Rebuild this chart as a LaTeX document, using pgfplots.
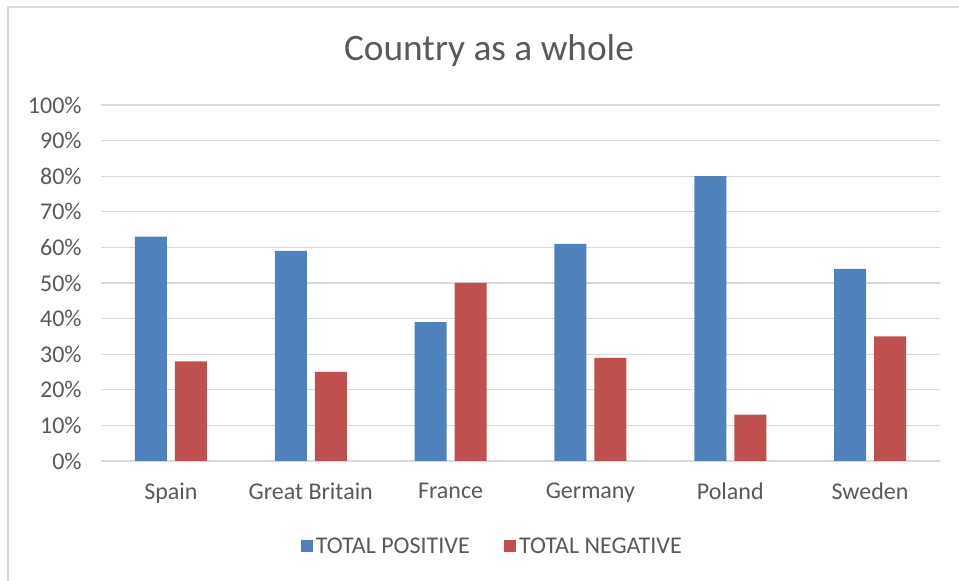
\documentclass[border=0pt]{standalone}
\usepackage{pgfplots}
\pgfplotsset{compat=1.18}
\usepackage{fontspec}
\setmainfont{Carlito}
\definecolor{bblue}{HTML}{4F81BD}
\definecolor{bred}{HTML}{C0504D}
\definecolor{tgray}{HTML}{595959}
\definecolor{ggray}{HTML}{D9D9D9}
\begin{document}
\begin{tikzpicture}
\path[use as bounding box] (0,0) rectangle (719.25pt,435.75pt);
\draw[ggray, line width=1.5pt] (6pt,-2pt) -- (6pt,430.5pt) -- (722pt,430.5pt);
\node[text=tgray, font=\fontsize{28}{32}\selectfont] at (366.75pt,397.5pt) {Country as a whole};
\begin{axis}[
  at={(75.75pt,90pt)}, anchor=south west,
  scale only axis,
  width=629.25pt, height=267pt,
  ybar=6pt, bar width=24pt,
  xmin=-0.5, xmax=5.5,
  ymin=0, ymax=100,
  ytick={0,10,...,100},
  yticklabel={\pgfmathprintnumber{\tick}\%},
  xtick=data,
  xticklabels={Spain,Great Britain,France,Germany,Poland,Sweden},
  /pgf/number format/assume math mode=true,
  ymajorgrids, grid style={ggray, line width=0.9pt},
  axis x line*=bottom, axis y line*=left,
  x axis line style={ggray, line width=0.9pt, -},
  y axis line style={draw=none},
  major tick length=0pt,
  tick label style={text=tgray, font=\fontsize{18}{21}\selectfont},
  yticklabel style={xshift=-11pt},
  xticklabel style={yshift=-13pt},
  legend columns=2,
  legend style={draw=none, at={(0.467,-0.24)}, anchor=center, font=\fontsize{18}{21}\selectfont, text=tgray,
    /tikz/every even column/.append style={column sep=24pt}},
  legend image code/.code={\fill[#1] (0pt,-4.5pt) rectangle (9pt,4.5pt);},
]
\addplot[fill=bblue, draw=none] coordinates {(0,63) (1,59) (2,39) (3,61) (4,80) (5,54)};
\addplot[fill=bred, draw=none] coordinates {(0,28) (1,25) (2,50) (3,29) (4,13) (5,35)};
\legend{TOTAL POSITIVE, TOTAL NEGATIVE}
\end{axis}
\end{tikzpicture}
\end{document}
